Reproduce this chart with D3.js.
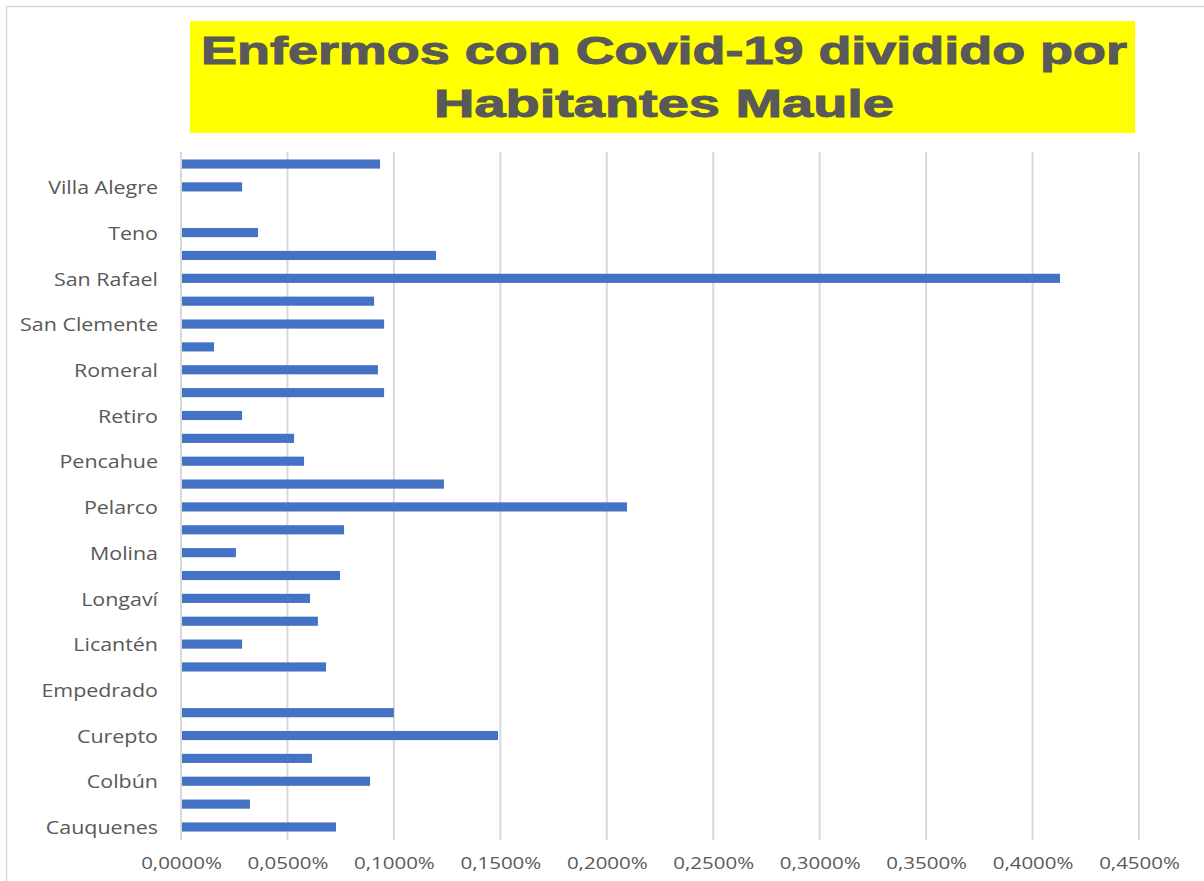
<!DOCTYPE html>
<html><head><meta charset="utf-8">
<script src="https://cdn.jsdelivr.net/npm/d3@7"></script>
<style>body{margin:0;background:#fff}</style>
</head><body>
<script>
const categories = ["Cauquenes","Chanco","Colbún","Constitución","Curepto","Curicó","Empedrado","Hualañé","Licantén","Linares","Longaví","Maule","Molina","Parral","Pelarco","Pelluhue","Pencahue","Rauco","Retiro","Río Claro","Romeral","Sagrada Familia","San Clemente","San Javier","San Rafael","Talca","Teno","Vichuquén","Villa Alegre","Yerbas Buenas"];
const values = [0.0728,0.0324,0.0888,0.0615,0.1489,0.1000,0,0.0681,0.0287,0.0643,0.0606,0.0747,0.0258,0.0766,0.2095,0.1235,0.0578,0.0531,0.0287,0.0954,0.0925,0.0155,0.0954,0.0907,0.4129,0.1198,0.0362,0,0.0287,0.0935];
const tickValues = [0,0.05,0.10,0.15,0.20,0.25,0.30,0.35,0.40,0.45];
const titleLines = ["Enfermos con Covid-19 dividido por","Habitantes Maule"];

const W=1204,H=881;
const svg=d3.select("body").append("svg").attr("width",W).attr("height",H);
svg.append("rect").attr("x",6.5).attr("y",6.5).attr("width",W).attr("height",H).attr("fill","#fff").attr("stroke","#d9d9d9").attr("stroke-width",1.5);

function stretch(sel,f){
  sel.each(function(){
    const len=this.getComputedTextLength();
    if(len>0) d3.select(this).attr("textLength",len*f).attr("lengthAdjust","spacingAndGlyphs");
  });
}

svg.append("rect").attr("x",190).attr("y",21).attr("width",945).attr("height",112).attr("fill","#ffff00");
const tl=svg.append("g").selectAll("text").data(titleLines).join("text")
  .attr("x",664).attr("y",(d,i)=>64+i*53).attr("text-anchor","middle")
  .attr("font-family","Liberation Sans, Arial, sans-serif").attr("font-weight","bold").attr("font-size",38)
  .attr("fill","#595959").attr("stroke","#595959").attr("stroke-width",1).text(d=>d);
tl.attr("textLength",(d,i)=>i===0?926:460).attr("lengthAdjust","spacingAndGlyphs");

const x=d3.scaleLinear().domain([0,0.45]).range([181,1139]);
const y=d3.scaleBand().domain(categories).range([838.4,152.6]).paddingInner(0.6).paddingOuter(0.3);

svg.append("g").selectAll("line").data(tickValues).join("line")
  .attr("x1",d=>x(d)).attr("x2",d=>x(d)).attr("y1",152).attr("y2",840)
  .attr("stroke","#d9d9d9").attr("stroke-width",2);

svg.append("g").selectAll("rect").data(categories).join("rect")
  .attr("x",x(0)+1).attr("y",d=>y(d)).attr("height",y.bandwidth())
  .attr("width",(d,i)=>Math.max(0,x(values[i])-x(0)-1)).attr("fill","#4472c4");

const fmt=d=>d3.format(".4f")(d).replace(".",",")+"%";
const xa=svg.append("g").attr("transform","translate(0,840)").call(d3.axisBottom(x).tickValues(tickValues).tickFormat(fmt).tickSize(0).tickPadding(18));
xa.select(".domain").remove();
xa.selectAll("text").attr("font-family","Open Sans, sans-serif").attr("font-size",16).attr("fill","#595959").call(stretch,1.28);

const ya=svg.append("g").attr("transform","translate(181,0)").call(d3.axisLeft(y).tickSize(0).tickPadding(23).tickFormat((d,i)=>i%2===0?d:""));
ya.select(".domain").remove();
ya.selectAll("text").attr("font-family","Open Sans, sans-serif").attr("font-size",18).attr("fill","#595959").attr("dy","0.4em").call(stretch,1.19);
</script>
</body></html>
